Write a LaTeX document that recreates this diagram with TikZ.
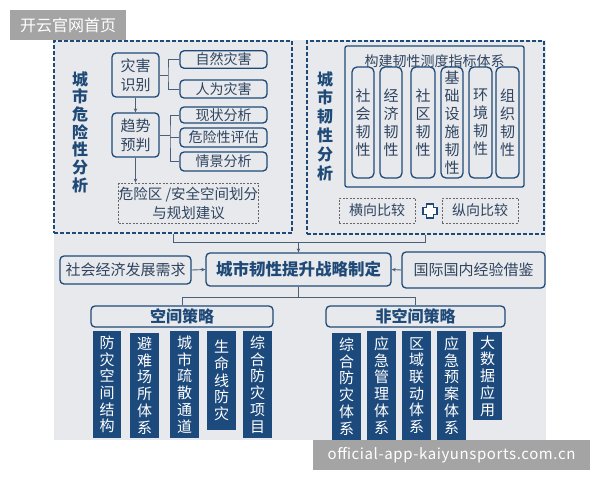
\documentclass[tikz,border=0pt]{standalone}
\usepackage{fontspec}
\setmainfont{Noto Sans CJK SC}
\usetikzlibrary{arrows.meta}
\definecolor{dblue}{HTML}{1F4A78}
\definecolor{fblue}{HTML}{1D4A7C}
\definecolor{txt}{HTML}{2E4460}
\definecolor{panel}{HTML}{E8E9EC}
\definecolor{wm}{HTML}{A4A4A4}
\definecolor{conn}{HTML}{4A5F78}
\tikzset{
  rbox/.style={draw=dblue, line width=1.3pt, rounded corners=4pt, inner sep=0pt, text=txt, align=center},
  dbox/.style={draw=dblue, line width=1.2pt, dashed, dash pattern=on 4pt off 2pt, inner sep=0pt},
  gbox/.style={draw=gray!80!black, line width=0.8pt, dash pattern=on 2pt off 1.5pt, inner sep=0pt, text=txt, align=center},
  fbox/.style={fill=fblue, inner sep=0pt, text=white, align=center, font=\fontsize{15}{16.7}\selectfont},
  vtitle/.style={text=dblue, align=center, inner sep=0pt},
  conline/.style={draw=conn, line width=0.9pt},
  arr/.style={conline, -{Stealth[length=4pt,width=3.5pt]}},
  f14/.style={font=\fontsize{14}{17}\selectfont},
  f15/.style={font=\fontsize{15}{18}\selectfont},
}
\begin{document}
\begin{tikzpicture}[x=1pt,y=-1pt]
\useasboundingbox (0,0) rectangle (600,480);
\fill[white] (0,0) rectangle (600,480);
% panel
\fill[panel] (54,40) rectangle (546,440);
% watermark top-left
\node[fill=wm, minimum width=116pt, minimum height=30pt, inner sep=0pt, text=white, font=\fontsize{16}{18}\selectfont] (wmtl) at (68,25) {开云官网首页};

% ---------- left dashed panel
\node[dbox, minimum width=238pt, minimum height=192pt] (dashL) at (173,137) {};
\node[vtitle, font=\bfseries\fontsize{16}{17.7}\selectfont] (titleL) at (80,132) {城\\市\\危\\险\\性\\分\\析};
\node[rbox, f15, minimum width=47pt, minimum height=44pt, font=\fontsize{15}{19}\selectfont] (zh1) at (135.5,75) {灾害\\识别};
\node[rbox, f14, minimum width=87pt, minimum height=17.5pt] (n1) at (223.5,59.5) {自然灾害};
\node[rbox, f14, minimum width=87pt, minimum height=18pt] (n2) at (223.5,89) {人为灾害};
\node[rbox, f15, minimum width=47pt, minimum height=44pt, font=\fontsize{15}{19}\selectfont] (zh2) at (135.5,135) {趋势\\预判};
\node[rbox, f14, minimum width=87pt, minimum height=16pt] (n3) at (223.5,115) {现状分析};
\node[rbox, f14, minimum width=87pt, minimum height=19pt] (n4) at (223.5,137.5) {危险性评估};
\node[rbox, f14, minimum width=87pt, minimum height=19pt] (n5) at (223.5,161.5) {情景分析};
\node[gbox, minimum width=139pt, minimum height=40pt, font=\fontsize{14.5}{19}\selectfont] (dz) at (188.5,203) {危险区 /安全空间划分\\与规划建议};
\coordinate (b1) at (168,75);
\coordinate (b2) at (170,135);
\draw[conline] (zh1.east) -- (b1);
\draw[conline] (n1.west) -| (b1) |- (n2.west);
\draw[conline] (zh2.east) -- (b2);
\draw[conline] (n3.west) -| (b2) |- (n5.west);
\draw[conline] (n4.west) -- (n4.west -| b2);
\draw[arr] (zh1.south) -- (zh2.north);
\draw[arr] (zh2.south) -- (zh2.south |- dz.north);

% ---------- right dashed panel
\node[dbox, minimum width=237pt, minimum height=193pt] (dashR) at (425.5,137.5) {};
\node[vtitle, font=\bfseries\fontsize{16}{18.8}\selectfont] (titleR) at (325,126) {城\\市\\韧\\性\\分\\析};
\node[draw=dblue, line width=1.3pt, rounded corners=2pt, minimum width=179pt, minimum height=141pt, inner sep=0pt] (ind) at (434.5,116.5) {};
\node[text=txt, f14, inner sep=0pt] (indt) at (434.5,61) {构建韧性测度指标体系};
\tikzset{cbox/.style={rbox, minimum height=111pt, rounded corners=5pt, font=\fontsize{15}{18}\selectfont}}
\node[cbox, minimum width=22pt] (c1) at (363,122.5) {社\\会\\韧\\性};
\node[cbox, minimum width=22pt] (c2) at (391,122.5) {经\\济\\韧\\性};
\node[cbox, minimum width=24pt] (c3) at (423,122.5) {社\\区\\韧\\性};
\node[cbox, minimum width=22pt] (c4) at (452,122.5) {基\\础\\设\\施\\韧\\性};
\node[cbox, minimum width=23pt] (c5) at (480.5,122.5) {环\\境\\韧\\性};
\node[cbox, minimum width=23pt] (c6) at (507.5,122.5) {组\\织\\韧\\性};
\node[gbox, f14, minimum width=76pt, minimum height=25pt] (hx) at (377,210.5) {横向比较};
\node[gbox, f14, minimum width=76pt, minimum height=25pt] (zx) at (480,210.5) {纵向比较};
\node[inner sep=0pt, minimum size=15pt] (plus) at (430,211) {};
\draw[draw=dblue, fill=white, line width=1.1pt]
  (426.5,204) -- (433.5,204) -- (433.5,207.5) -- (437,207.5) -- (437,214.5) -- (433.5,214.5) -- (433.5,218)
  -- (426.5,218) -- (426.5,214.5) -- (423,214.5) -- (423,207.5) -- (426.5,207.5) -- cycle;

% ---------- middle
\node[rbox, minimum width=185pt, minimum height=33pt, text=dblue, font=\bfseries\fontsize{16.5}{20}\selectfont] (cen) at (298.5,269.5) {城市韧性提升战略制定};
\node[rbox, f15, minimum width=131pt, minimum height=28pt] (soc) at (125.5,270) {社会经济发展需求};
\node[rbox, f15, minimum width=143pt, minimum height=36pt] (intl) at (473.5,270) {国际国内经验借鉴};
\draw[arr] (soc.east) -- (cen.west);
\draw[arr] (intl.west) -- (cen.east);
\coordinate (j1) at (298.5,242);
\draw[conline] (dashL.south) |- (j1);
\draw[conline] (dashR.south) |- (j1);
\draw[arr] (j1) -- (cen.north);

\node[rbox, minimum width=182pt, minimum height=21pt, text=dblue, font=\bfseries\fontsize{16}{18}\selectfont] (sp) at (182,316.5) {空间策略};
\node[rbox, minimum width=179pt, minimum height=21pt, text=dblue, font=\bfseries\fontsize{16}{18}\selectfont] (nsp) at (415.5,316.5) {非空间策略};
\coordinate (j2) at (298.5,297);
\draw[conline] (cen.south) -- (j2);
\draw[conline] (j2) -| (sp.north);
\draw[conline] (j2) -| (nsp.north);

% spatial strategies
\node[fbox, minimum width=28pt, minimum height=107pt] (s1) at (107,384.5) {防\\灾\\空\\间\\结\\构};
\node[fbox, minimum width=29pt, minimum height=105pt] (s2) at (144.5,385.5) {避\\难\\场\\所\\体\\系};
\node[fbox, minimum width=29pt, minimum height=107pt] (s3) at (184.5,384.5) {城\\市\\疏\\散\\通\\道};
\node[fbox, minimum width=29pt, minimum height=99pt] (s4) at (221.5,380.5) {生\\命\\线\\防\\灾};
\node[fbox, minimum width=29pt, minimum height=107pt] (s5) at (257.5,384.5) {综\\合\\防\\灾\\项\\目};
% non-spatial strategies
\node[fbox, minimum width=29pt, minimum height=107pt] (t1) at (346.5,386.5) {综\\合\\防\\灾\\体\\系};
\node[fbox, minimum width=29pt, minimum height=109pt] (t2) at (381.5,385.5) {应\\急\\管\\理\\体\\系};
\node[fbox, minimum width=29pt, minimum height=109pt] (t3) at (416.5,385.5) {区\\域\\联\\动\\体\\系};
\node[fbox, minimum width=29pt, minimum height=109pt] (t4) at (451.5,385.5) {应\\急\\预\\案\\体\\系};
\node[fbox, minimum width=29pt, minimum height=88pt] (t5) at (487.5,376) {大\\数\\据\\应\\用};

% watermark bottom-right
\node[fill=wm, minimum width=277pt, minimum height=30pt, inner sep=0pt, text=white, font=\fontsize{15}{18}\selectfont] (wmbr) at (451.5,455) {\addfontfeatures{LetterSpace=4}official-app-kaiyunsports.com.cn};
\end{tikzpicture}
\end{document}
